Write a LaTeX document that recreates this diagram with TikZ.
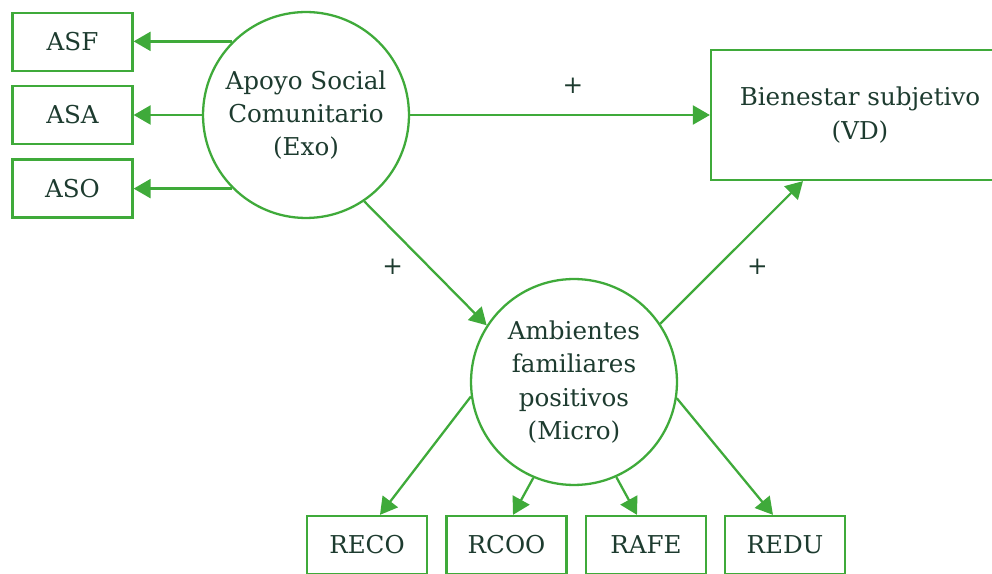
\documentclass[tikz,border=0pt]{standalone}
\usepackage{fontspec}
\setmainfont{DejaVu Serif}
\usepackage{tikz}
\usetikzlibrary{arrows.meta,calc}
\definecolor{lgreen}{HTML}{3FAA3A}
\definecolor{ink}{HTML}{1D3B2F}

\begin{document}
\begin{tikzpicture}[
  x=0.02cm, y=-0.02cm,
  every node/.style={text=ink, font=\fontsize{14}{19}\selectfont},
  box/.style={draw=lgreen, line width=1.3pt, rectangle, minimum width=2.4cm,
              minimum height=1.16cm, inner sep=2pt, align=center},
  circ/.style={draw=lgreen, line width=1.3pt, circle, minimum size=4.12cm,
               inner sep=0pt, align=center},
  lnk/.style={-{Triangle[length=0.34cm, width=0.38cm]}, draw=lgreen,
              fill=lgreen, line width=1.3pt},
  lbl/.style={inner sep=0pt},
]
\useasboundingbox (0,0) rectangle (992,574);
\node[box] (asf) at (72.5,42) {ASF};
\node[box] (asa) at (72.5,115) {ASA};
\node[box] (aso) at (72.5,188.5) {ASO};
\node[circ] (apoyo) at (306,115) {Apoyo Social \\ Comunitario \\ (Exo)};
\node[box, minimum width=5.96cm, minimum height=2.6cm] (bien) at (860,115)
  {Bienestar subjetivo \\ (VD)};
\node[circ] (amb) at (574,382) {Ambientes \\ familiares \\ positivos \\ (Micro)};
\node[box] (reco) at (367,545) {RECO};
\node[box] (rcoo) at (506.5,545) {RCOO};
\node[box] (rafe) at (646,545) {RAFE};
\node[box] (redu) at (785,545) {REDU};
\draw[lnk] (apoyo.135) -- (apoyo.135 -| asf.east);
\draw[lnk] (apoyo.west) -- (asa.east);
\draw[lnk] (apoyo.225) -- (apoyo.225 -| aso.east);
\draw[lnk] (apoyo.east) -- node[lbl, pos=0.543, yshift=0.58cm] {+} (bien.west);
\draw[lnk] (apoyo.-56) -- node[lbl, pos=0.38, xshift=-0.36cm, yshift=-0.36cm] {+} (amb.147);
\draw[lnk] (amb.34) -- node[lbl, pos=0.54, xshift=0.4cm, yshift=-0.41cm] {+} ($(bien.south)+(-57,0)$);
\draw[lnk] (amb.188) -- ($(reco.north)+(13,0)$);
\draw[lnk] (amb.247) -- ($(rcoo.north)+(6.5,0)$);
\draw[lnk] (amb.294) -- ($(rafe.north)+(-9,0)$);
\draw[lnk] (amb.351) -- ($(redu.north)+(-12,0)$);
\end{tikzpicture}
\end{document}
